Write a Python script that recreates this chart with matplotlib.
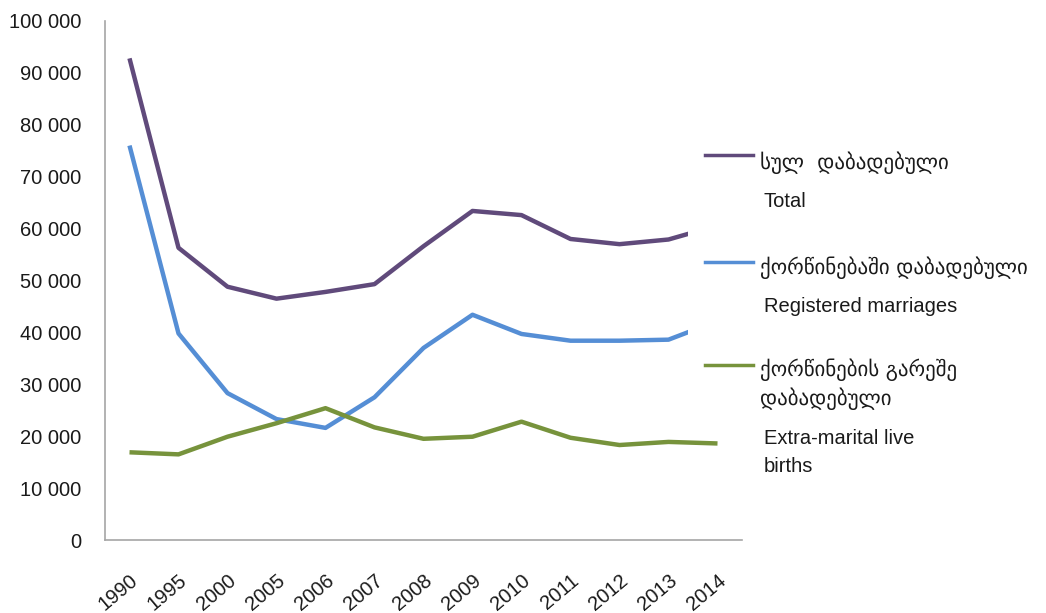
import matplotlib.pyplot as plt
from matplotlib.lines import Line2D
from matplotlib.patches import Rectangle

# --- data ---
years = ["1990", "1995", "2000", "2005", "2006", "2007", "2008",
         "2009", "2010", "2011", "2012", "2013", "2014"]
total = [92800, 56300, 48800, 46500, 47800, 49300, 56600,
         63400, 62600, 58000, 57000, 57900, 60600]
married = [76000, 39800, 28300, 23300, 21600, 27500, 37000,
           43400, 39700, 38400, 38400, 38600, 42200]
extra = [16900, 16500, 19900, 22500, 25400, 21700, 19500,
         19900, 22800, 19700, 18300, 18900, 18600]

labels_ka = ["სულ  დაბადებული", "ქორწინებაში დაბადებული",
             "ქორწინების გარეშე\nდაბადებული"]
labels_en = ["Total", "Registered marriages", "Extra-marital live\nbirths"]
colors = ["#604A7B", "#558ED5", "#77933C"]

W, H = 1046, 613


def fx(px):
    return px / W


def fy(py):
    return 1 - py / H


plt.rcParams['font.family'] = ['Liberation Sans', 'DejaVu Sans']

fig = plt.figure(figsize=(W / 100, H / 100), dpi=100)
ax = fig.add_axes([fx(105), fy(540), (742 - 105) / W, (540 - 21) / H])

x = list(range(len(years)))
for series, col in zip([total, married, extra], colors):
    ax.plot(x, series, color=col, lw=3.2, solid_capstyle='butt')

ax.set_xlim(-0.5, len(years) - 0.5)
ax.set_ylim(0, 100000)
ax.set_yticks(range(0, 100001, 10000))
ax.set_yticklabels([f"{v:,.0f}".replace(",", " ") for v in range(0, 100001, 10000)])
ax.set_xticks(x)
ax.set_xticklabels(years, rotation=40, ha='right', rotation_mode='anchor')
ax.tick_params(axis='y', length=0, pad=17, labelsize=14.5, labelcolor='#1a1a1a')
ax.tick_params(axis='x', length=0, pad=22, labelsize=14.5, labelcolor='#1a1a1a')

for s in ['top', 'right']:
    ax.spines[s].set_visible(False)
for s in ['left', 'bottom']:
    ax.spines[s].set_color('#A6A6A6')
    ax.spines[s].set_linewidth(1.2)

# --- legend drawn by hand (white box over the plot's right end) ---
fig.patches.append(Rectangle((fx(688), fy(432)), 1 - fx(688), fy(0) - fy(432),
                             transform=fig.transFigure, facecolor='white',
                             edgecolor='none', zorder=2))
handle_y = [155, 262, 365]
ka_y = [163, 268, 384]
en_y = [202, 307, 452]
for i in range(3):
    fig.lines.append(Line2D([fx(705), fx(753)], [fy(handle_y[i])] * 2,
                            transform=fig.transFigure, color=colors[i],
                            lw=2.5, zorder=3))
    fig.text(fx(760), fy(ka_y[i]), labels_ka[i], fontsize=15,
             family=['DejaVu Sans'], va='center',
             color='#1a1a1a', linespacing=1.35, zorder=4)
    fig.text(fx(764), fy(en_y[i]), labels_en[i], fontsize=14.5,
             va='center', color='#1a1a1a', linespacing=1.6, zorder=4)

fig.savefig("out.png", dpi=100)
